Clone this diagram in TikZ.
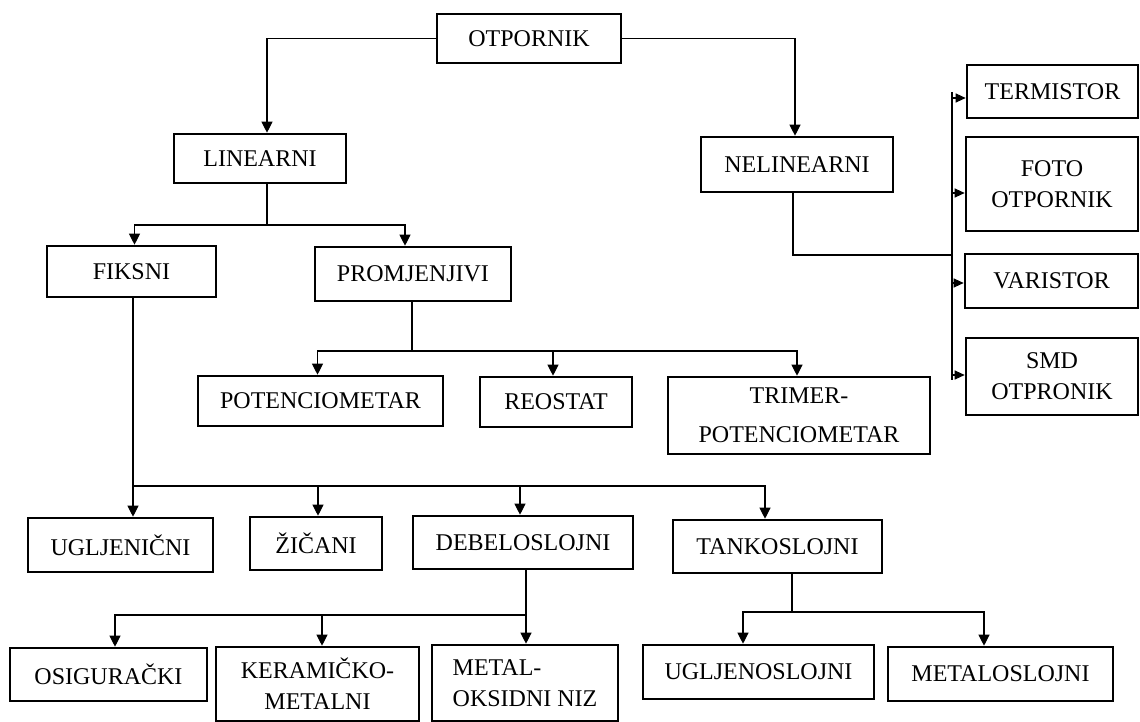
\documentclass[tikz,border=0pt]{standalone}
\usepackage{fontspec}
\setmainfont{Liberation Serif}
\usetikzlibrary{arrows.meta}

\begin{document}
\begin{tikzpicture}[x=1pt,y=-1pt,
	box/.style={draw,line width=2.6pt,inner sep=2pt,align=center,font=\fontsize{24}{31}\selectfont},
	conn/.style={line width=1.1pt},
	arr/.style={conn,-{Triangle[length=11pt,width=11pt]}},
	sarr/.style={conn,-{Triangle[length=10pt,width=9pt]}}]
	  \useasboundingbox (0,0) rectangle (1140,722);
	  % Boxes
	  \node [box,minimum width=184pt,minimum height=49pt] (otp) at (529,38.5) {OTPORNIK};
	  \node [box,minimum width=172pt,minimum height=49pt] (lin) at (260,158.5) {LINEARNI};
	  \node [box,minimum width=192pt,minimum height=55pt] (nel) at (797,164.5) {NELINEARNI};
	  \node [box,minimum width=169pt,minimum height=51pt] (fik) at (131.5,271.5) {FIKSNI};
	  \node [box,minimum width=196pt,minimum height=54pt] (pro) at (413,274) {PROMJENJIVI};
	  \node [box,minimum width=245pt,minimum height=50pt] (pot) at (320.5,401) {POTENCIOMETAR};
	  \node [box,minimum width=152pt,minimum height=50pt] (reo) at (556,402) {REOSTAT};
	  \node [box,minimum width=262pt,minimum height=77pt,font=\fontsize{24}{39}\selectfont] (tri) at (799,415.5) {TRIMER-\\POTENCIOMETAR};
	  \node [box,minimum width=185pt,minimum height=54pt] (ugl) at (120.5,545) {UGLJENIČNI};
	  \node [box,minimum width=132pt,minimum height=53pt] (zic) at (316,543.5) {ŽIČANI};
	  \node [box,minimum width=220pt,minimum height=53pt] (deb) at (523,542.5) {DEBELOSLOJNI};
	  \node [box,minimum width=209pt,minimum height=53pt] (tan) at (777.5,546.5) {TANKOSLOJNI};
	  \node [box,minimum width=197pt,minimum height=53pt] (osi) at (108.5,674.5) {OSIGURAČKI};
	  \node [box,minimum width=203pt,minimum height=74pt] (ker) at (317.5,684) {KERAMIČKO-\\METALNI};
	  \node [box,minimum width=186pt,minimum height=76pt,align=left] (met) at (525,683) {METAL-\\OKSIDNI NIZ};
	  \node [box,minimum width=231pt,minimum height=54pt] (ugs) at (758.5,672) {UGLJENOSLOJNI};
	  \node [box,minimum width=225pt,minimum height=54pt] (mes) at (1000.5,674) {METALOSLOJNI};
	  \node [box,minimum width=171pt,minimum height=53pt] (ter) at (1052.5,91.5) {TERMISTOR};
	  \node [box,minimum width=172pt,minimum height=94pt] (fot) at (1052,184) {FOTO\\OTPORNIK};
	  \node [box,minimum width=173pt,minimum height=54pt] (var) at (1051.5,281) {VARISTOR};
	  \node [box,minimum width=172pt,minimum height=77pt] (smd) at (1052,376.5) {SMD\\OTPRONIK};
	  % Bus points
	  \coordinate (linbus) at (267,225);
	  \coordinate (probus) at (412,351);
	  \coordinate (fikbus) at (133,486);
	  \coordinate (debbus) at (526,615);
	  \coordinate (tanbus) at (792,612);
	  \coordinate (nelbus) at (952,255);
	  \coordinate (rtop) at (952,92);
	  \coordinate (rbot) at (952,380);
	  \coordinate (r1) at (952,98);
	  \coordinate (r2) at (952,193);
	  \coordinate (r3) at (952,283);
	  \coordinate (r4) at (952,375);
	  % Top level
	  \draw [arr] (otp.west) -| ([xshift=7pt]lin.north);
	  \draw [arr] (otp.east) -| ([xshift=-2pt]nel.north);
	  % Linearni
	  \draw [conn] ([xshift=7pt]lin.south) -- (linbus);
	  \draw [arr] (linbus) -| ([xshift=3pt]fik.north);
	  \draw [arr] (linbus) -| ([xshift=-8pt]pro.north);
	  % Promjenjivi
	  \draw [conn] ([xshift=-1pt]pro.south) -- (probus);
	  \draw [arr] (probus) -| ([xshift=-3pt]pot.north);
	  \draw [arr] (probus) -| ([xshift=-3pt]reo.north);
	  \draw [arr] (probus) -| ([xshift=-2pt]tri.north);
	  % Fiksni
	  \draw [arr] ([xshift=1.5pt]fik.south) -- ([xshift=12.5pt]ugl.north);
	  \draw [arr] (fikbus) -| ([xshift=2pt]zic.north);
	  \draw [arr] (fikbus) -| ([xshift=-3pt]deb.north);
	  \draw [arr] (fikbus) -| ([xshift=-12.5pt]tan.north);
	  % Debeloslojni
	  \draw [arr] ([xshift=3pt]deb.south) -- ([xshift=1pt]met.north);
	  \draw [arr] (debbus) -| ([xshift=6.5pt]osi.north);
	  \draw [arr] (debbus) -| ([xshift=4.5pt]ker.north);
	  % Tankoslojni
	  \draw [conn] ([xshift=14.5pt]tan.south) -- (tanbus);
	  \draw [arr] (tanbus) -| ([xshift=-15.5pt]ugs.north);
	  \draw [arr] (tanbus) -| ([xshift=-16.5pt]mes.north);
	  % Nelinearni
	  \draw [conn] ([xshift=-4pt]nel.south) |- (nelbus);
	  \draw [conn] (rtop) -- (rbot);
	  \draw [sarr] (r1) -- (r1 -| ter.west);
	  \draw [sarr] (r2) -- (r2 -| fot.west);
	  \draw [sarr] (r3) -- (r3 -| var.west);
	  \draw [sarr] (r4) -- (r4 -| smd.west);
	 \end{tikzpicture}
\end{document}
